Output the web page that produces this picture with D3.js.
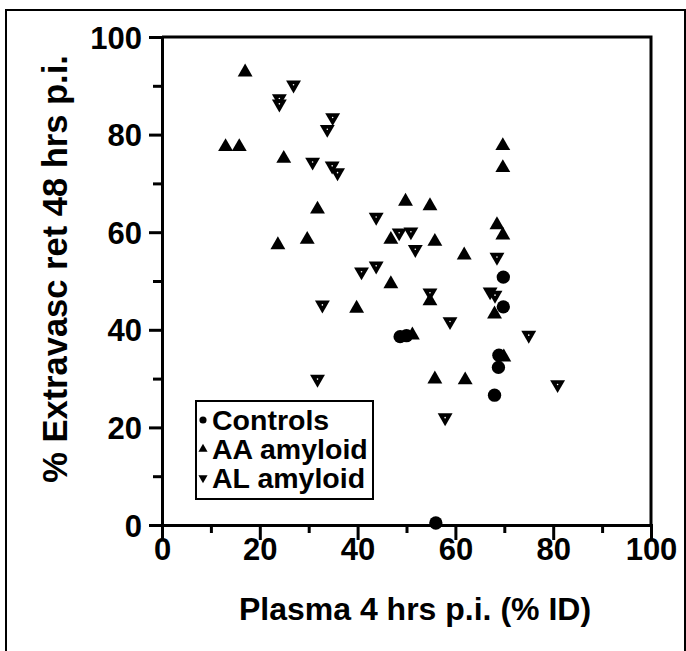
<!DOCTYPE html>
<html>
<head>
<meta charset="utf-8">
<script src="https://cdn.jsdelivr.net/npm/d3@7"></script>
<style>
  body { margin: 0; background: #fff; }
  text { font-family: "Liberation Sans", Arial, sans-serif; font-weight: bold; fill: #000; }
</style>
</head>
<body>
<svg width="686" height="651"></svg>
<script>
// values: [plasma 4 h, extravascular retention 48 h]
var controls = [[69.8,50.8],[69.8,44.7],[68.9,34.8],[68.8,32.3],[68.0,26.6],[56.0,0.4],[48.7,38.6],[50.0,38.8]];
var aaAmyloid = [[17.0,92.8],[13.0,77.5],[15.8,77.5],[24.9,75.1],[23.7,57.4],[29.7,58.5],[31.8,64.7],
                 [39.8,44.4],[46.8,58.5],[46.8,49.4],[49.8,66.3],[51.2,38.9],[54.8,65.4],[55.8,58.1],
                 [54.8,45.9],[55.8,29.9],[61.8,55.3],[62.0,29.7],[68.0,43.2],[68.5,61.5],[69.7,59.4],
                 [69.7,77.7],[69.7,73.2],[69.9,34.4]];
var alAmyloid = [[26.9,90.2],[24.0,87.4],[24.0,86.3],[34.9,83.5],[33.8,81.1],[30.8,74.4],[34.8,73.6],
                 [35.9,72.2],[43.8,63.1],[48.5,59.9],[50.9,60.1],[51.8,56.5],[43.8,53.1],[40.8,51.9],
                 [54.8,47.6],[32.8,45.1],[58.9,41.7],[67.1,47.8],[68.1,47.1],[68.5,54.9],[75.0,38.9],
                 [80.9,28.8],[57.9,22.0],[31.8,29.9]];
var majorTicks = [0,20,40,60,80,100];
var minorTicks = [10,30,50,70,90];
var legendLabels = ["Controls","AA amyloid","AL amyloid"];

var svg = d3.select('svg');

// outer frame of the scanned figure
svg.append('rect')
    .attr('x', 6).attr('y', 10)
    .attr('width', 679).attr('height', 680)
    .attr('fill', 'none').attr('stroke', '#000').attr('stroke-width', 2);

var x = d3.scaleLinear().domain([0,100]).range([162,651]);
var y = d3.scaleLinear().domain([0,100]).range([525,37]);

// minor ticks
svg.append('g')
    .attr('transform', 'translate(0,525)')
    .call(d3.axisBottom(x).tickValues(minorTicks).tickSize(8).tickFormat(''));
svg.append('g')
    .attr('transform', 'translate(162,0)')
    .call(d3.axisLeft(y).tickValues(minorTicks).tickSize(9).tickFormat(''));

var xAxis = svg.append('g')
    .attr('transform', 'translate(0,525)')
    .call(d3.axisBottom(x).tickValues(majorTicks).tickSize(15).tickSizeOuter(0));
xAxis.selectAll('text').attr('y', 13).style('font-size', '31px');

var yAxis = svg.append('g')
    .attr('transform', 'translate(162,0)')
    .call(d3.axisLeft(y).tickValues(majorTicks).tickSize(13).tickSizeOuter(0));
yAxis.selectAll('text').attr('x', -20).attr('dy', '0.36em').style('font-size', '31px');

svg.selectAll('.domain, .tick line')
    .attr('stroke', '#000').attr('stroke-width', 3);

// top and right borders of the plot box
svg.append('path')
    .attr('d', 'M' + x(0) + ',' + y(100) + 'H' + x(100) + 'V' + y(0))
    .attr('fill', 'none').attr('stroke', '#000').attr('stroke-width', 3);

// axis titles
svg.append('text')
    .attr('x', 415).attr('y', 620)
    .attr('text-anchor', 'middle')
    .style('font-size', '32px')
    .text('Plasma 4 hrs p.i. (% ID)');
svg.append('text')
    .attr('transform', 'translate(67,269) rotate(-90)')
    .attr('text-anchor', 'middle')
    .style('font-size', '34.5px')
    .text('% Extravasc ret 48 hrs p.i.');

var circleSym = d3.symbol().type(d3.symbolCircle).size(140);
var triSym = d3.symbol().type(d3.symbolTriangle).size(96);

var plot = svg.append('g');

plot.selectAll('.ctrl')
    .data(controls)
    .enter()
    .append('path')
    .attr('class', 'ctrl')
    .attr('d', circleSym)
    .attr('transform', function(d){ return 'translate(' + x(d[0]) + ',' + y(d[1]) + ')'; });

plot.selectAll('.aa')
    .data(aaAmyloid)
    .enter()
    .append('path')
    .attr('class', 'aa')
    .attr('d', triSym)
    .attr('transform', function(d){ return 'translate(' + x(d[0]) + ',' + y(d[1]) + ')'; });

var al = plot.selectAll('.al')
    .data(alAmyloid)
    .enter()
    .append('g')
    .attr('class', 'al')
    .attr('transform', function(d){ return 'translate(' + x(d[0]) + ',' + y(d[1]) + ')'; });
al.append('path')
    .attr('d', triSym)
    .attr('transform', 'rotate(180)');
al.append('circle')
    .attr('r', 0.8)
    .attr('fill', '#fff');

plot.selectAll('path').attr('fill', '#000');

// legend
var legend = svg.append('g');
legend.append('rect')
    .attr('x', 196).attr('y', 401)
    .attr('width', 177).attr('height', 98)
    .attr('fill', '#fff').attr('stroke', '#000').attr('stroke-width', 2);

var rowY = d3.scalePoint().domain(legendLabels).range([420,478]);
var legSyms = [
    d3.symbol().type(d3.symbolCircle).size(40),
    d3.symbol().type(d3.symbolTriangle).size(36),
    d3.symbol().type(d3.symbolTriangle).size(36)
];
legendLabels.forEach(function(lab, i){
    legend.append('path')
        .attr('d', legSyms[i])
        .attr('fill', '#000')
        .attr('transform', 'translate(203,' + rowY(lab) + ')' + (i == 2 ? ' rotate(180)' : ''));
    legend.append('text')
        .attr('x', 212).attr('y', rowY(lab))
        .attr('dy', '0.36em')
        .style('font-size', '28.5px')
        .text(lab);
});
</script>
</body>
</html>
